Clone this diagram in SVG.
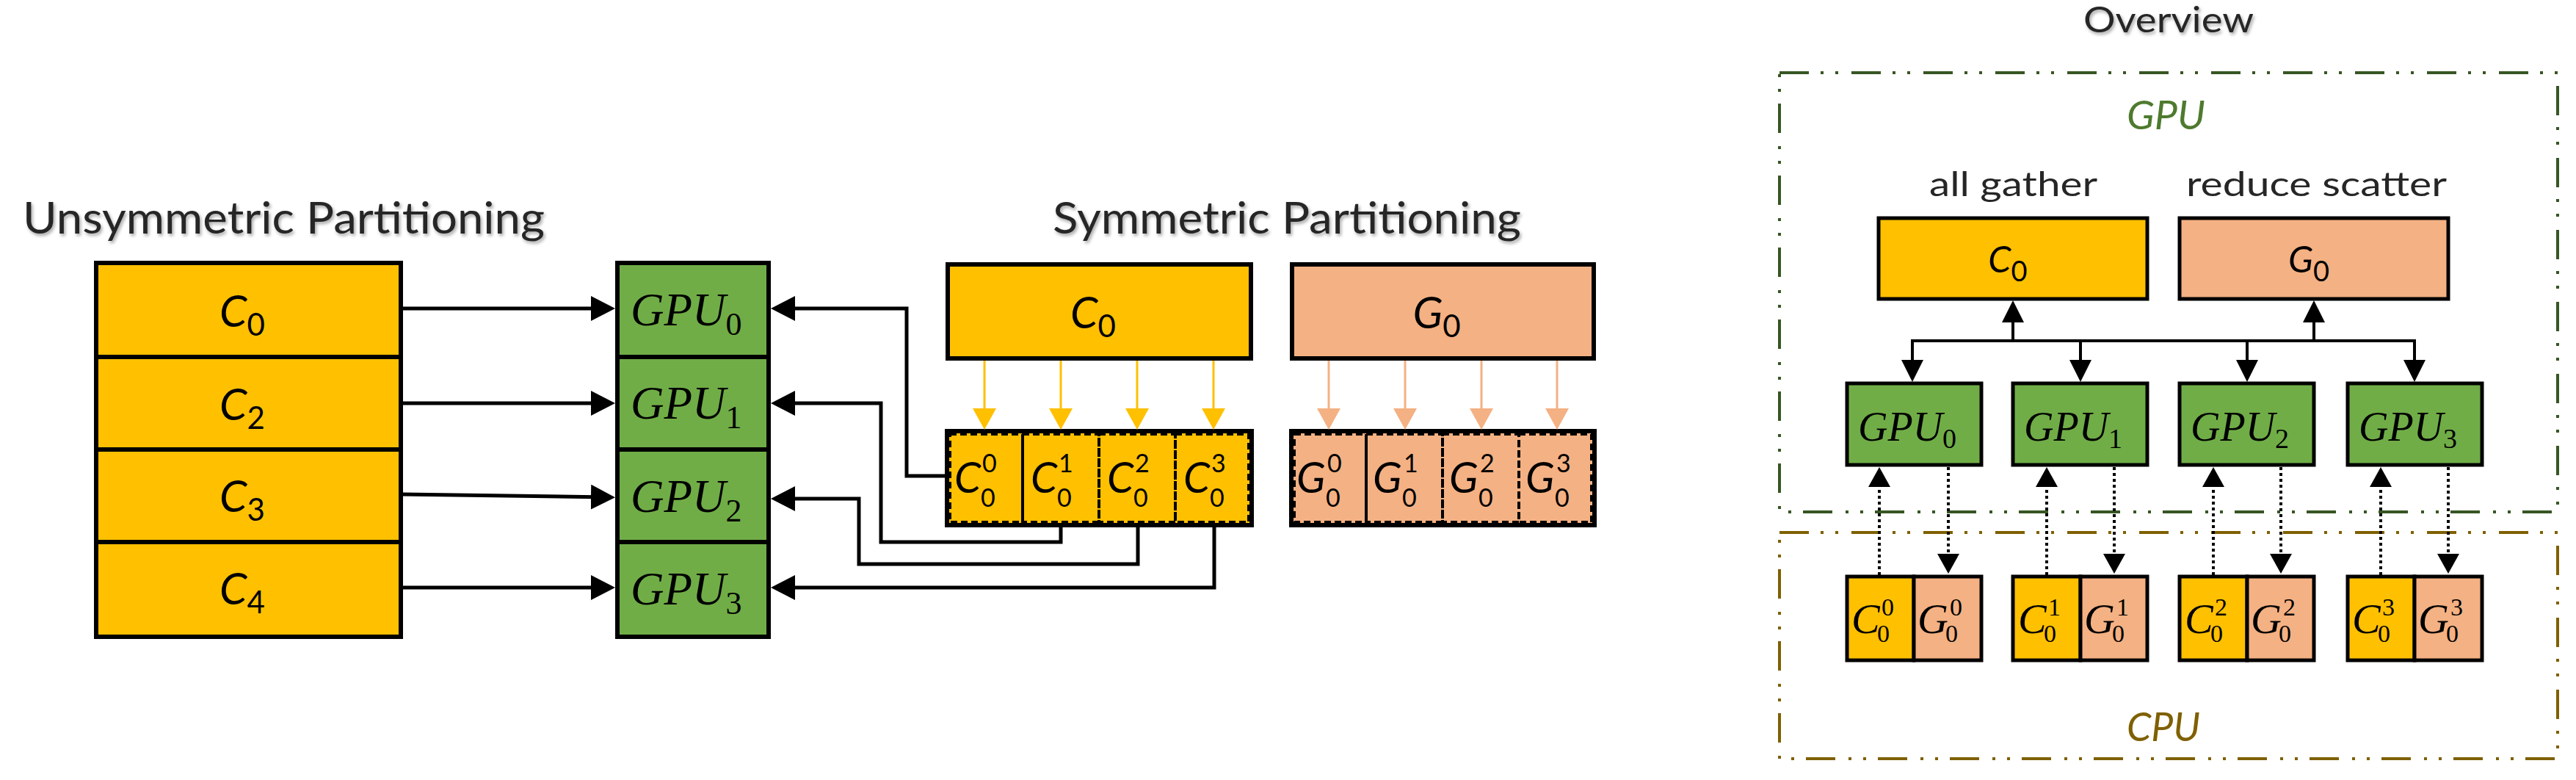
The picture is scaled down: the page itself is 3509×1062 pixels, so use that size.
<svg xmlns="http://www.w3.org/2000/svg" width="3509" height="1062" viewBox="0 0 3509 1062">
<defs>
<style>
.bg{fill:#fff}
.box{stroke:#000;stroke-width:6}
.sbox{stroke:#000;stroke-width:5}
.y{fill:#FFC000}
.g{fill:#70AD47}
.p{fill:#F4B183}
.cell{fill:none;stroke:#000;stroke-width:4;stroke-dasharray:9 5}
.conn{fill:none;stroke:#000;stroke-width:5}
.tree{fill:none;stroke:#000;stroke-width:4}
.dot{fill:none;stroke:#000;stroke-width:4;stroke-dasharray:4 4}
.oa{fill:none;stroke:#FFC000;stroke-width:3}
.pa{fill:none;stroke:#F4B183;stroke-width:3}
.title{font-family:Lato,"Liberation Sans",sans-serif;font-size:60px;fill:#262626}
.txt{font-family:Lato,"Liberation Sans",sans-serif;font-size:47px;fill:#262626}
.mi{font-family:Lato,"Liberation Sans",sans-serif;font-style:italic;fill:#000}
.ms{font-family:"Liberation Serif",serif;font-style:italic;fill:#000}
.d{font-style:normal}
.gpuT{font-family:Lato,"Liberation Sans",sans-serif;font-style:italic;font-size:54px;fill:#4E7A2E}
.cpuT{font-family:Lato,"Liberation Sans",sans-serif;font-style:italic;font-size:54px;fill:#7F6000}
.gfr{fill:none;stroke:#375623;stroke-width:4;stroke-dasharray:40 16 4 16 4 18}
.cfr{fill:none;stroke:#7F6000;stroke-width:4;stroke-dasharray:40 16 4 16 4 18}
</style>
<filter id="sh" x="-5%" y="-30%" width="110%" height="160%">
<feDropShadow dx="2" dy="3" stdDeviation="2" flood-color="#000" flood-opacity="0.35"/>
</filter>
<marker id="aB" markerUnits="userSpaceOnUse" markerWidth="33" markerHeight="34" viewBox="0 0 33 34" refX="23" refY="17" orient="auto">
<path d="M0,0 L33,17 L0,34 z" fill="#000"/>
</marker>
<marker id="aO" markerUnits="userSpaceOnUse" markerWidth="29" markerHeight="32" viewBox="0 0 29 32" refX="23" refY="16" orient="auto">
<path d="M0,0 L29,16 L0,32 z" fill="#FFC000"/>
</marker>
<marker id="aP" markerUnits="userSpaceOnUse" markerWidth="29" markerHeight="32" viewBox="0 0 29 32" refX="23" refY="16" orient="auto">
<path d="M0,0 L29,16 L0,32 z" fill="#F4B183"/>
</marker>
<marker id="aT" markerUnits="userSpaceOnUse" markerWidth="30" markerHeight="30" viewBox="0 0 30 30" refX="20" refY="15" orient="auto">
<path d="M0,0 L30,15 L0,30 z" fill="#000"/>
</marker>
<marker id="aD" markerUnits="userSpaceOnUse" markerWidth="27" markerHeight="30" viewBox="0 0 27 30" refX="17" refY="15" orient="auto">
<path d="M0,0 L27,15 L0,30 z" fill="#000"/>
</marker>
</defs>
<rect class="bg" x="0" y="0" width="3509" height="1062"/>

<!-- Titles -->
<text class="title" x="31" y="318" textLength="711" lengthAdjust="spacingAndGlyphs" filter="url(#sh)">Unsymmetric Partitioning</text>
<text class="title" x="1434" y="318" textLength="638" lengthAdjust="spacingAndGlyphs" filter="url(#sh)">Symmetric Partitioning</text>

<!-- Unsymmetric C column -->
<g id="uC0"><rect class="box y" x="131" y="358" width="415" height="128"/><text class="mi" x="330" y="445" font-size="60" text-anchor="middle">C<tspan class="d" font-size="42" dy="12">0</tspan></text></g>
<g id="uC2"><rect class="box y" x="131" y="486" width="415" height="126"/><text class="mi" x="330" y="572" font-size="60" text-anchor="middle">C<tspan class="d" font-size="42" dy="12">2</tspan></text></g>
<g id="uC3"><rect class="box y" x="131" y="612" width="415" height="126"/><text class="mi" x="330" y="697" font-size="60" text-anchor="middle">C<tspan class="d" font-size="42" dy="12">3</tspan></text></g>
<g id="uC4"><rect class="box y" x="131" y="738" width="415" height="129"/><text class="mi" x="330" y="823" font-size="60" text-anchor="middle">C<tspan class="d" font-size="42" dy="12">4</tspan></text></g>

<!-- GPU column -->
<g id="GPU0"><rect class="box g" x="841" y="358" width="206" height="128"/><text class="ms" x="859" y="443" font-size="63">GPU<tspan class="d" font-size="44" dy="13">0</tspan></text></g>
<g id="GPU1"><rect class="box g" x="841" y="486" width="206" height="126"/><text class="ms" x="859" y="570" font-size="63">GPU<tspan class="d" font-size="44" dy="13">1</tspan></text></g>
<g id="GPU2"><rect class="box g" x="841" y="612" width="206" height="126"/><text class="ms" x="859" y="697" font-size="63">GPU<tspan class="d" font-size="44" dy="13">2</tspan></text></g>
<g id="GPU3"><rect class="box g" x="841" y="738" width="206" height="129"/><text class="ms" x="859" y="823" font-size="63">GPU<tspan class="d" font-size="44" dy="13">3</tspan></text></g>

<!-- Symmetric big boxes -->
<g id="sC0"><rect class="box y" x="1291" y="360" width="413" height="128"/><text class="mi" x="1489" y="447" font-size="60" text-anchor="middle">C<tspan class="d" font-size="42" dy="12">0</tspan></text></g>
<g id="sG0"><rect class="box p" x="1760" y="360" width="411" height="128"/><text class="mi" x="1957" y="447" font-size="60" text-anchor="middle">G<tspan class="d" font-size="42" dy="12">0</tspan></text></g>

<!-- Symmetric C cells -->
<g id="sCcells">
<rect class="box y" x="1290" y="587" width="415" height="128"/>
<rect class="cell" x="1294" y="591" width="99" height="120"/>
<rect class="cell" x="1393" y="591" width="104" height="120"/>
<rect class="cell" x="1497" y="591" width="104" height="120"/>
<rect class="cell" x="1601" y="591" width="100" height="120"/>
<text class="mi"><tspan x="1300" y="671" font-size="58">C</tspan><tspan class="d" x="1338" y="643" font-size="34">0</tspan><tspan class="d" x="1336" y="690" font-size="34">0</tspan></text>
<text class="mi"><tspan x="1404" y="671" font-size="58">C</tspan><tspan class="d" x="1442" y="643" font-size="34">1</tspan><tspan class="d" x="1440" y="690" font-size="34">0</tspan></text>
<text class="mi"><tspan x="1508" y="671" font-size="58">C</tspan><tspan class="d" x="1546" y="643" font-size="34">2</tspan><tspan class="d" x="1544" y="690" font-size="34">0</tspan></text>
<text class="mi"><tspan x="1612" y="671" font-size="58">C</tspan><tspan class="d" x="1650" y="643" font-size="34">3</tspan><tspan class="d" x="1648" y="690" font-size="34">0</tspan></text>
</g>

<!-- Symmetric G cells -->
<g id="sGcells">
<rect class="box p" x="1759" y="587" width="413" height="128"/>
<rect class="cell" x="1763" y="591" width="98" height="120"/>
<rect class="cell" x="1861" y="591" width="104" height="120"/>
<rect class="cell" x="1965" y="591" width="104" height="120"/>
<rect class="cell" x="2069" y="591" width="99" height="120"/>
<text class="mi"><tspan x="1766" y="671" font-size="58">G</tspan><tspan class="d" x="1808" y="643" font-size="34">0</tspan><tspan class="d" x="1806" y="690" font-size="34">0</tspan></text>
<text class="mi"><tspan x="1870" y="671" font-size="58">G</tspan><tspan class="d" x="1912" y="643" font-size="34">1</tspan><tspan class="d" x="1910" y="690" font-size="34">0</tspan></text>
<text class="mi"><tspan x="1974" y="671" font-size="58">G</tspan><tspan class="d" x="2016" y="643" font-size="34">2</tspan><tspan class="d" x="2014" y="690" font-size="34">0</tspan></text>
<text class="mi"><tspan x="2078" y="671" font-size="58">G</tspan><tspan class="d" x="2120" y="643" font-size="34">3</tspan><tspan class="d" x="2118" y="690" font-size="34">0</tspan></text>
</g>

<!-- Overview frames and labels -->
<text class="title" x="2838" y="44" style="font-size:48px" textLength="232" lengthAdjust="spacingAndGlyphs" filter="url(#sh)">Overview</text>
<g id="gpuFrame"><rect class="gfr" x="2424" y="99" width="1060" height="598"/><text class="gpuT" x="2897" y="176" textLength="107" lengthAdjust="spacingAndGlyphs">GPU</text></g>
<g id="cpuFrame"><rect class="cfr" x="2424" y="725" width="1060" height="308"/><text class="cpuT" x="2897" y="1009" textLength="100" lengthAdjust="spacingAndGlyphs">CPU</text></g>
<text class="txt" x="2628" y="267" textLength="229" lengthAdjust="spacingAndGlyphs">all gather</text>
<text class="txt" x="2978" y="267" textLength="355" lengthAdjust="spacingAndGlyphs">reduce scatter</text>

<g id="oC0"><rect class="sbox y" x="2559" y="297" width="366" height="110"/><text class="mi" x="2735" y="371" font-size="50" text-anchor="middle">C<tspan class="d" font-size="38" dy="12">0</tspan></text></g>
<g id="oG0"><rect class="sbox p" x="2969" y="297" width="366" height="110"/><text class="mi" x="3145" y="371" font-size="50" text-anchor="middle">G<tspan class="d" font-size="38" dy="12">0</tspan></text></g>

<g id="oGPU0"><rect class="sbox g" x="2516" y="522" width="183" height="111"/><text class="ms" x="2531" y="600" font-size="56">GPU<tspan class="d" font-size="38" dy="10">0</tspan></text></g>
<g id="oGPU1"><rect class="sbox g" x="2742" y="522" width="183" height="111"/><text class="ms" x="2757" y="600" font-size="56">GPU<tspan class="d" font-size="38" dy="10">1</tspan></text></g>
<g id="oGPU2"><rect class="sbox g" x="2969" y="522" width="183" height="111"/><text class="ms" x="2984" y="600" font-size="56">GPU<tspan class="d" font-size="38" dy="10">2</tspan></text></g>
<g id="oGPU3"><rect class="sbox g" x="3198" y="522" width="183" height="111"/><text class="ms" x="3213" y="600" font-size="56">GPU<tspan class="d" font-size="38" dy="10">3</tspan></text></g>

<g id="cpu0">
<rect class="sbox y" x="2516" y="785" width="91" height="114"/><rect class="sbox p" x="2607" y="785" width="92" height="114"/>
<text class="ms"><tspan x="2522" y="862" font-size="58">C</tspan><tspan class="d" x="2563" y="838" font-size="34">0</tspan><tspan class="d" x="2557" y="874" font-size="34">0</tspan></text>
<text class="ms"><tspan x="2612" y="862" font-size="58">G</tspan><tspan class="d" x="2656" y="838" font-size="34">0</tspan><tspan class="d" x="2650" y="874" font-size="34">0</tspan></text>
</g>
<g id="cpu1">
<rect class="sbox y" x="2742" y="785" width="92" height="114"/><rect class="sbox p" x="2834" y="785" width="91" height="114"/>
<text class="ms"><tspan x="2749" y="862" font-size="58">C</tspan><tspan class="d" x="2790" y="838" font-size="34">1</tspan><tspan class="d" x="2784" y="874" font-size="34">0</tspan></text>
<text class="ms"><tspan x="2839" y="862" font-size="58">G</tspan><tspan class="d" x="2883" y="838" font-size="34">1</tspan><tspan class="d" x="2877" y="874" font-size="34">0</tspan></text>
</g>
<g id="cpu2">
<rect class="sbox y" x="2969" y="785" width="92" height="114"/><rect class="sbox p" x="3061" y="785" width="91" height="114"/>
<text class="ms"><tspan x="2976" y="862" font-size="58">C</tspan><tspan class="d" x="3017" y="838" font-size="34">2</tspan><tspan class="d" x="3011" y="874" font-size="34">0</tspan></text>
<text class="ms"><tspan x="3066" y="862" font-size="58">G</tspan><tspan class="d" x="3110" y="838" font-size="34">2</tspan><tspan class="d" x="3104" y="874" font-size="34">0</tspan></text>
</g>
<g id="cpu3">
<rect class="sbox y" x="3198" y="785" width="91" height="114"/><rect class="sbox p" x="3289" y="785" width="92" height="114"/>
<text class="ms"><tspan x="3204" y="862" font-size="58">C</tspan><tspan class="d" x="3245" y="838" font-size="34">3</tspan><tspan class="d" x="3239" y="874" font-size="34">0</tspan></text>
<text class="ms"><tspan x="3294" y="862" font-size="58">G</tspan><tspan class="d" x="3338" y="838" font-size="34">3</tspan><tspan class="d" x="3332" y="874" font-size="34">0</tspan></text>
</g>

<!-- Connectors -->
<g id="connectors">
<path class="conn" d="M548 420 H828" marker-end="url(#aB)"/>
<path class="conn" d="M548 549 H828" marker-end="url(#aB)"/>
<path class="conn" d="M548 673 L828 677" marker-end="url(#aB)"/>
<path class="conn" d="M548 800 H828" marker-end="url(#aB)"/>
<path class="conn" d="M1289 648 H1235 V420 H1060" marker-end="url(#aB)"/>
<path class="conn" d="M1445 717 V738 H1200 V549 H1060" marker-end="url(#aB)"/>
<path class="conn" d="M1550 717 V768 H1170 V679 H1060" marker-end="url(#aB)"/>
<path class="conn" d="M1654 717 V800 H1060" marker-end="url(#aB)"/>
<path class="oa" d="M1341 491 V579" marker-end="url(#aO)"/>
<path class="oa" d="M1445 491 V579" marker-end="url(#aO)"/>
<path class="oa" d="M1549 491 V579" marker-end="url(#aO)"/>
<path class="oa" d="M1653 491 V579" marker-end="url(#aO)"/>
<path class="pa" d="M1810 491 V579" marker-end="url(#aP)"/>
<path class="pa" d="M1914 491 V579" marker-end="url(#aP)"/>
<path class="pa" d="M2018 491 V579" marker-end="url(#aP)"/>
<path class="pa" d="M2121 491 V579" marker-end="url(#aP)"/>
<path class="tree" d="M2605 464 H3289"/>
<path class="tree" d="M2742 466 V419" marker-end="url(#aT)"/>
<path class="tree" d="M3152 466 V419" marker-end="url(#aT)"/>
<path class="tree" d="M2605 462 V510" marker-end="url(#aT)"/>
<path class="tree" d="M2834 462 V510" marker-end="url(#aT)"/>
<path class="tree" d="M3061 462 V510" marker-end="url(#aT)"/>
<path class="tree" d="M3289 462 V510" marker-end="url(#aT)"/>
<path class="dot" d="M2560 783 V646" marker-end="url(#aD)"/>
<path class="dot" d="M2654 636 V771" marker-end="url(#aD)"/>
<path class="dot" d="M2788 783 V646" marker-end="url(#aD)"/>
<path class="dot" d="M2880 636 V771" marker-end="url(#aD)"/>
<path class="dot" d="M3015 783 V646" marker-end="url(#aD)"/>
<path class="dot" d="M3107 636 V771" marker-end="url(#aD)"/>
<path class="dot" d="M3243 783 V646" marker-end="url(#aD)"/>
<path class="dot" d="M3335 636 V771" marker-end="url(#aD)"/>
</g>
</svg>
